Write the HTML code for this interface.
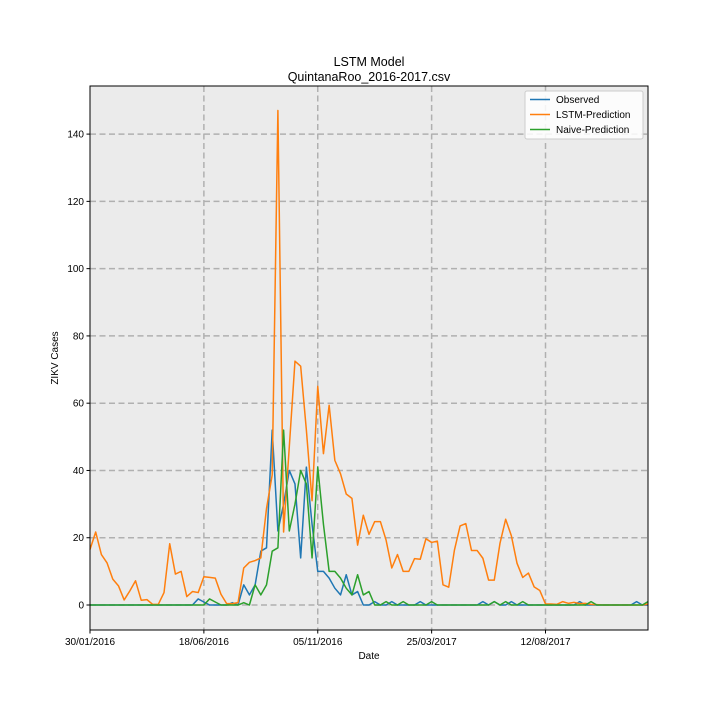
<!DOCTYPE html>
<html><head><meta charset="utf-8"><style>
body{margin:0;background:#fff;}
svg{font-family:"Liberation Sans","DejaVu Sans",sans-serif;}
</style></head><body>
<svg id="chart" width="720" height="720" xmlns="http://www.w3.org/2000/svg">
<rect width="720" height="720" fill="#fff"/>
<text x="369" y="66" font-size="12.5" text-anchor="middle">LSTM Model</text>
<text x="369" y="81" font-size="12.5" text-anchor="middle">QuintanaRoo_2016-2017.csv</text>
<rect x="90" y="86" width="558" height="544" fill="#ebebeb"/>
<g id="grid"></g>
<g id="series"></g>
<rect x="90" y="86" width="558" height="544" fill="none" stroke="#000" stroke-width="1"/>
<g id="ticks"></g>
<text x="369" y="659" font-size="10" text-anchor="middle">Date</text>
<text transform="translate(58,358) rotate(-90)" font-size="10" text-anchor="middle">ZIKV Cases</text>
<g>
<rect x="525" y="91" width="118" height="48" fill="#fff" fill-opacity="0.85" stroke="#ccc" rx="2"/>
<line x1="530" y1="99.5" x2="550" y2="99.5" stroke="#1f77b4" stroke-width="1.5"/>
<text x="556" y="103" font-size="10">Observed</text>
<line x1="530" y1="114.5" x2="550" y2="114.5" stroke="#ff7f0e" stroke-width="1.5"/>
<text x="556" y="118" font-size="10">LSTM-Prediction</text>
<line x1="530" y1="129.5" x2="550" y2="129.5" stroke="#2ca02c" stroke-width="1.5"/>
<text x="556" y="133" font-size="10">Naive-Prediction</text>
</g>
</svg>
<script>
const xTickIdx=[0,20,40,60,80];
const xTickLabels=["30/01/2016","18/06/2016","05/11/2016","25/03/2017","12/08/2017"];
const yTicks=[0,20,40,60,80,100,120,140];
const observed=[0,0,0,0,0,0,0,0,0,0,0,0,0,0,0,0,0,0,0,1.8,0.9,0,0,0,0,0.7,0,6,3,6,16,17,52,22,30,40,36,14,41,24,10,10,8,5,3,9,3,4,0,0,1,0,0,1,0,0,0,0,1,0,0,0,0,0,0,0,0,0,0,1,0,1,0,0,1,0,0,0,0,0,0,0,0,0,0,0,1,0,0,0,0,0,0,0,0,0,1,0,0];
const lstm=[16.5,21.7,15,12.5,7.7,5.7,1.5,4.2,7.2,1.4,1.6,0.2,0.2,3.7,18.2,9.2,10,2.5,4,3.7,8.4,8.2,8,3.2,0.4,0.4,0.7,11,12.7,13.2,14,28.7,38.7,147,21.7,47,72.5,71,52,31,65,45,59.4,43,39,33,31.7,17.8,26.7,21,24.8,24.8,19.3,11,15,10,10,13.8,13.6,19.7,18.6,19,6,5.3,16.3,23.5,24.2,16.2,16.2,13.9,7.4,7.4,18.3,25.5,20.6,12.4,8.2,9.5,5.4,4.3,0.3,0.3,0.2,1,0.5,0.8,0.4,0.5,0.2,0.1,0,0,0,0,0,0,0,0,0.3];
const naive=[0,0,0,0,0,0,0,0,0,0,0,0,0,0,0,0,0,0,0,0,0,1.8,0.9,0,0,0,0,0.7,0,6,3,6,16,17,52,22,30,40,36,14,41,24,10,10,8,5,3,9,3,4,0,0,1,0,0,1,0,0,0,0,1,0,0,0,0,0,0,0,0,0,0,1,0,1,0,0,1,0,0,0,0,0,0,0,0,0,0,0,1,0,0,0,0,0,0,0,0,0,1];
const NS="http://www.w3.org/2000/svg";
const X0=90,X1=648,Y0=86,Y1=630,yMin=-7.43,yMax=154.3,nMax=98;
function xs(i){return X0+(X1-X0)*i/nMax;}
function ys(v){return Y1-(v-yMin)/(yMax-yMin)*(Y1-Y0);}
function mk(tag,attrs,parent){const e=document.createElementNS(NS,tag);for(const k in attrs)e.setAttribute(k,attrs[k]);parent.appendChild(e);return e;}
const grid=document.getElementById('grid'),ticks=document.getElementById('ticks'),ser=document.getElementById('series');
yTicks.forEach(v=>{const y=ys(v);
 const g=mk('line',{x1:X0,x2:X1,y1:y,y2:y,stroke:'#b0b0b0','stroke-width':1.5,'stroke-dasharray':'6,3.5'},grid);
 
 
 mk('line',{x1:X0-3.5,x2:X0,y1:y,y2:y,stroke:'#000'},ticks);
 const t=mk('text',{x:X0-6,y:y+3.5,'font-size':10,'text-anchor':'end'},ticks);t.textContent=v;
 
 
});
xTickIdx.forEach((idx,k)=>{const x=xs(idx);
 if(idx>0){const g=mk('line',{x1:x,x2:x,y1:Y0,y2:Y1,stroke:'#b0b0b0','stroke-width':1.5,'stroke-dasharray':'6,3.5'},grid);
 
 }
 mk('line',{x1:x,x2:x,y1:Y1,y2:Y1+3.5,stroke:'#000'},ticks);
 const t=mk('text',{x:x,y:Y1+15,'font-size':10,'text-anchor':'middle'},ticks);t.textContent=xTickLabels[k];
 
 
});
[[observed,'#1f77b4','observed-line'],[lstm,'#ff7f0e','lstm-prediction-line'],[naive,'#2ca02c','naive-prediction-line']].forEach(([d,c,n])=>{
 const p=mk('polyline',{points:d.map((v,i)=>xs(i).toFixed(2)+','+ys(v).toFixed(2)).join(' '),fill:'none',stroke:c,'stroke-width':1.5,'stroke-linejoin':'round'},ser);
 
 
});
</script>
</body></html>
